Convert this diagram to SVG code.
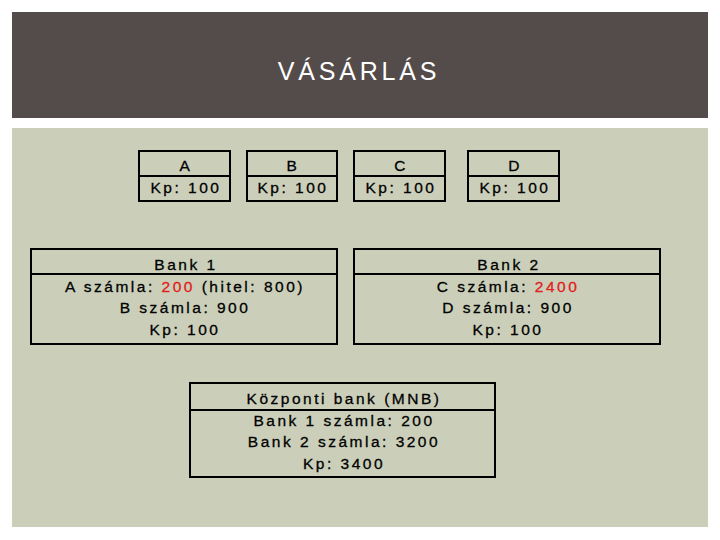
<svg xmlns="http://www.w3.org/2000/svg" width="720" height="540" viewBox="0 0 720 540">
<style>
.box{fill:none;stroke:#000;stroke-width:2}
.t{font-family:"Liberation Sans",Arial,sans-serif;font-size:15.5px;letter-spacing:2.5px;fill:#000;stroke:#000;stroke-width:0.3px;text-anchor:middle}
.r{fill:#e0201c;stroke:#e0201c}
.title{font-family:"Liberation Sans",Arial,sans-serif;font-size:25px;letter-spacing:3.8px;fill:#fff;text-anchor:middle}
</style>
<rect width="720" height="540" fill="#fff"/>
<rect x="12" y="12" width="696" height="106" fill="#544c4a"/>
<text class="title" x="359" y="80">VÁSÁRLÁS</text>
<rect x="12" y="128" width="696" height="399" fill="#cbcfb9"/>
<g id="A">
<rect class="box" x="139" y="151" width="91" height="50"/>
<line class="box" x1="139" y1="176" x2="230" y2="176"/>
<text class="t" x="186" y="171">A</text>
<text class="t" x="186" y="193">Kp: 100</text>
</g>
<g id="B">
<rect class="box" x="247" y="151" width="90" height="50"/>
<line class="box" x1="247" y1="176" x2="337" y2="176"/>
<text class="t" x="293" y="171">B</text>
<text class="t" x="293" y="193">Kp: 100</text>
</g>
<g id="C">
<rect class="box" x="354" y="151" width="91" height="50"/>
<line class="box" x1="354" y1="176" x2="445" y2="176"/>
<text class="t" x="401" y="171">C</text>
<text class="t" x="401" y="193">Kp: 100</text>
</g>
<g id="D">
<rect class="box" x="468" y="151" width="91" height="50"/>
<line class="box" x1="468" y1="176" x2="559" y2="176"/>
<text class="t" x="515" y="171">D</text>
<text class="t" x="515" y="193">Kp: 100</text>
</g>
<g id="Bank1">
<rect class="box" x="31" y="249" width="306" height="95"/>
<line class="box" x1="31" y1="274" x2="337" y2="274"/>
<text class="t" x="186" y="270">Bank 1</text>
<text class="t" x="185" y="292">A számla: <tspan class="r">200</tspan> (hitel: 800)</text>
<text class="t" x="185" y="313">B számla: 900</text>
<text class="t" x="185" y="335">Kp: 100</text>
</g>
<g id="Bank2">
<rect class="box" x="354" y="249" width="306" height="95"/>
<line class="box" x1="354" y1="274" x2="660" y2="274"/>
<text class="t" x="509" y="270">Bank 2</text>
<text class="t" x="508" y="292">C számla: <tspan class="r">2400</tspan></text>
<text class="t" x="508" y="313">D számla: 900</text>
<text class="t" x="508" y="335">Kp: 100</text>
</g>
<g id="MNB">
<rect class="box" x="190" y="383" width="305" height="94"/>
<line class="box" x1="190" y1="410" x2="495" y2="410"/>
<text class="t" x="344" y="404">Központi bank (MNB)</text>
<text class="t" x="344" y="426">Bank 1 számla: 200</text>
<text class="t" x="344" y="447">Bank 2 számla: 3200</text>
<text class="t" x="344" y="469">Kp: 3400</text>
</g>
<g id="connectors"></g>
</svg>
